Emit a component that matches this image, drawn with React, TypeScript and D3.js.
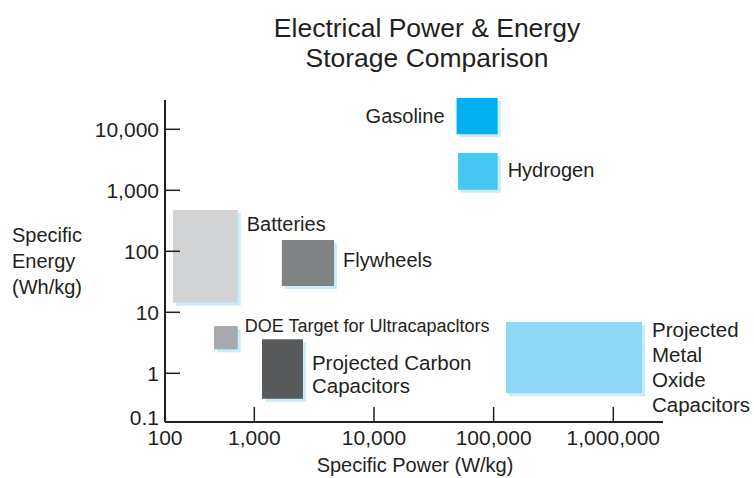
import React from "react";
import * as d3 from "d3";

// storage technologies, ranges (W/kg and Wh/kg)
const techNames = [
	"Gasoline",
	"Hydrogen",
	"Batteries",
	"Flywheels",
	"DOE Target",
	"Carbon",
	"Metal Oxide",
];
const powerLow = [49000, 50400, 123, 1700, 354, 1160, 126800];
const powerHigh = [108000, 108000, 652, 4640, 652, 2550, 1738000];
const energyLow = [8300, 1020, 14.4, 27, 2.47, 0.3, 0.39];
const energyHigh = [32600, 4090, 475, 153, 5.96, 3.61, 6.93];

const labelLines = [
	["Gasoline"],
	["Hydrogen"],
	["Batteries"],
	["Flywheels"],
	["DOE Target for Ultracapacltors"],
	["Projected Carbon", "Capacitors"],
	["Projected", "Metal", "Oxide", "Capacitors"],
];

const xTicks = [100, 1000, 10000, 100000, 1000000];
const xTickLabels = ["100", "1,000", "10,000", "100,000", "1,000,000"];
const yTicks = [0.1, 1, 10, 100, 1000, 10000];
const yTickLabels = ["0.1", "1", "10", "100", "1,000", "10,000"];

const fills = ["#00b0f0", "#47c8f3", "#d1d3d4", "#808283", "#a7a9ac", "#58595b", "#8fd8f6"];
// label placement: side, dx, dy from box top, font size, line height
const labelStyle = [
	{ side: "left", dx: -12, dy: 25, size: 20, lh: 0 },
	{ side: "right", dx: 10, dy: 24, size: 20, lh: 0 },
	{ side: "right", dx: 9, dy: 21, size: 20, lh: 0 },
	{ side: "right", dx: 9, dy: 27, size: 20, lh: 0 },
	{ side: "right", dx: 7, dy: 6, size: 18, lh: 0 },
	{ side: "right", dx: 9, dy: 31, size: 20.5, lh: 23 },
	{ side: "right", dx: 10, dy: 15, size: 20.5, lh: 25 },
];

const ink = "#231f20";
const font = "'Liberation Sans', Arial, sans-serif";

export default function App() {
	const width = 754;
	const height = 478;

	// first decade is squeezed in the original, so piecewise log domain
	const x = d3.scaleLog().domain([100, 1000, 1000000]).range([165, 254.3, 613.3]);
	const y = d3.scaleLog().domain([0.1, 1, 10000]).range([422, 373.3, 129.3]);

	const axisRight = 663;
	const axisTop = 100;

	return (
		<svg
			width={width}
			height={height}
			style={{ position: "absolute", left: 0, top: 0, background: "#fff" }}
			fontFamily={font}
		>
			<text x={427} y={37} textAnchor="middle" fontSize={26.5} fill={ink}>
				Electrical Power &amp; Energy
			</text>
			<text x={427} y={67} textAnchor="middle" fontSize={26.5} fill={ink}>
				Storage Comparison
			</text>

			{/* boxes with light blue drop shadow */}
			{techNames.map((name, i) => {
				const x0 = x(powerLow[i]);
				const x1 = x(powerHigh[i]);
				const y0 = y(energyHigh[i]);
				const y1 = y(energyLow[i]);
				return (
					<g key={name}>
						<rect x={x0 + 3} y={y0 + 3} width={x1 - x0} height={y1 - y0} fill="#c9ecfb" />
						<rect x={x0} y={y0} width={x1 - x0} height={y1 - y0} fill={fills[i]} />
					</g>
				);
			})}

			{techNames.map((name, i) => {
				const st = labelStyle[i];
				const lx = st.side === "left" ? x(powerLow[i]) + st.dx : x(powerHigh[i]) + st.dx;
				const ly = y(energyHigh[i]) + st.dy;
				return (
					<text
						key={name}
						x={lx}
						y={ly}
						fontSize={st.size}
						fill={ink}
						textAnchor={st.side === "left" ? "end" : "start"}
					>
						{labelLines[i].map((line, j) => (
							<tspan key={j} x={lx} dy={j === 0 ? 0 : st.lh}>
								{line}
							</tspan>
						))}
					</text>
				);
			})}

			{/* axes */}
			<line x1={x(100)} x2={axisRight} y1={y(0.1)} y2={y(0.1)} stroke={ink} strokeWidth={2} />
			<line x1={x(100)} x2={x(100)} y1={axisTop} y2={y(0.1)} stroke={ink} strokeWidth={2} />

			{xTicks.map((t, i) => (
				<g key={t}>
					{i > 0 && (
						<line x1={x(t)} x2={x(t)} y1={y(0.1)} y2={y(0.1) - 15} stroke={ink} strokeWidth={1.5} />
					)}
					<text x={x(t)} y={445} textAnchor="middle" fontSize={21} fill={ink}>
						{xTickLabels[i]}
					</text>
				</g>
			))}
			{yTicks.map((t, i) => (
				<g key={t}>
					{i > 0 && (
						<line x1={x(100)} x2={x(100) + 15} y1={y(t)} y2={y(t)} stroke={ink} strokeWidth={1.5} />
					)}
					<text
						x={159}
						y={i === 0 ? 418 : y(t)}
						dy="0.35em"
						textAnchor="end"
						fontSize={21}
						fill={ink}
					>
						{yTickLabels[i]}
					</text>
				</g>
			))}

			<text x={415} y={472} textAnchor="middle" fontSize={20} fill={ink}>
				Specific Power (W/kg)
			</text>
			<text x={12} y={242} fontSize={20} fill={ink}>
				<tspan x={12}>Specific</tspan>
				<tspan x={12} dy={26}>Energy</tspan>
				<tspan x={12} dy={26}>(Wh/kg)</tspan>
			</text>
		</svg>
	);
}
